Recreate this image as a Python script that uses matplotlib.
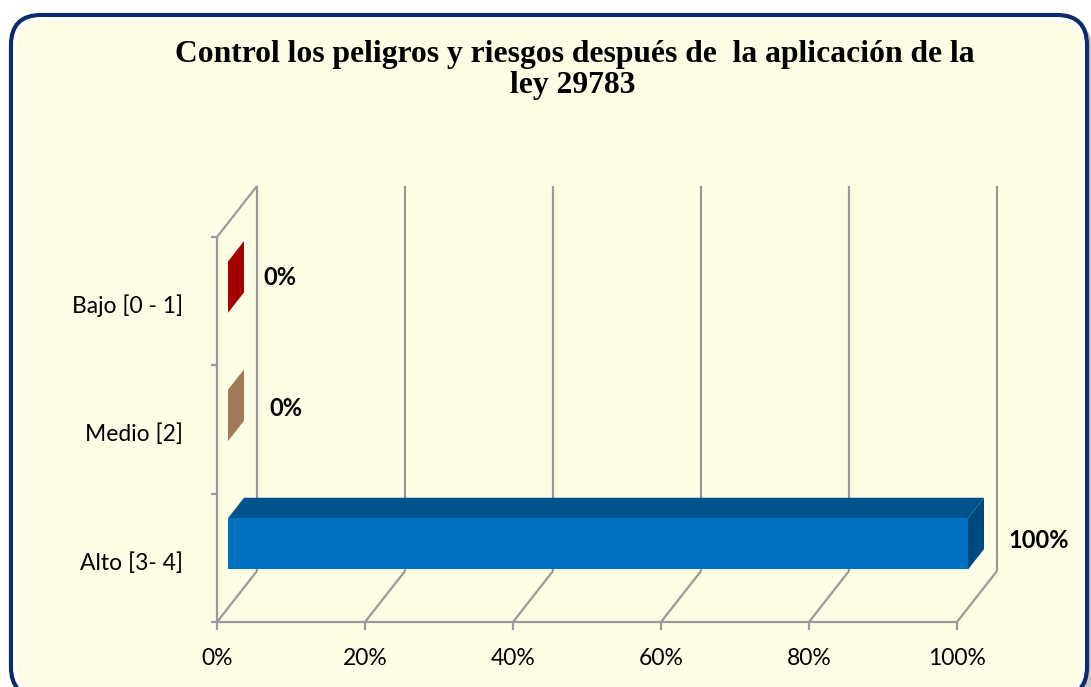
import matplotlib
matplotlib.use("Agg")
import matplotlib.pyplot as plt
import matplotlib.transforms as mtransforms
from matplotlib.patches import Polygon, FancyBboxPatch

# ---------------- data ----------------
categories = ["Alto [3- 4]", "Medio [2]", "Bajo [0 - 1]"]
values = [100, 0, 0]
value_labels = ["100%", "0%", "0%"]
xticks = [0, 20, 40, 60, 80, 100]
xtick_labels = ["0%", "20%", "40%", "60%", "80%", "100%"]
title_lines = ["Control los peligros y riesgos después de  la aplicación de la", "ley 29783"]

# ---------------- style ----------------
front_colors = ["#0070C0", "#A0785A", "#A50000"]
top_colors = ["#00528C", "#A0785A", "#A50000"]
side_colors = ["#00497E", "#A0785A", "#A50000"]
label_offsets = [(82, 17), (69, 21), (63, 24)]   # pixels from bar end
grid_color = "#9A9A9A"
W, H = 1091, 687

fig = plt.figure(figsize=(W / 100, H / 100), dpi=100)
fig.patch.set_facecolor("white")
ident = mtransforms.IdentityTransform()

# frame with shadow
fig.patches.append(FancyBboxPatch((15, -16), 1078, 682, boxstyle="round,pad=0,rounding_size=30",
                                  transform=ident, fc="#C8C8C8", ec="none", zorder=-3))
fig.patches.append(FancyBboxPatch((11, -10), 1076, 682, boxstyle="round,pad=0,rounding_size=30",
                                  transform=ident, fc="#FDFDE6", ec="#0B2B6E", lw=3.0, zorder=-2))
fig.patches.append(FancyBboxPatch((15, -6), 1068, 674, boxstyle="round,pad=0,rounding_size=27",
                                  transform=ident, fc="none", ec="white", lw=2.5, zorder=-1))

# axes = front plane of the 3D box
ax = fig.add_axes([217 / W, (H - 622) / H, 740 / W, 385 / H])
ax.set_zorder(2)
ax.set_xlim(0, 100)
ax.set_ylim(-0.5, 2.5)
ax.patch.set_visible(False)
for s in ax.spines.values():
    s.set_visible(False)

# depth vector in data units
DX = 40 / 7.4
DY = 51 / (385 / 3)
y0, y1 = -0.5, 2.5
lw = 1.6
kw = dict(color=grid_color, lw=lw, clip_on=False, zorder=1, solid_capstyle="butt")

# back wall gridlines and floor diagonals
for x in xticks:
    ax.plot([x + DX, x + DX], [y0 + DY, y1 + DY], **kw)
    ax.plot([x, x + DX], [y0, y0 + DY], **kw)
# front floor line, left wall
ax.plot([0, 100], [y0, y0], **kw)
ax.plot([0, 0], [y0, y1], **kw)
ax.plot([0, DX], [y1, y1 + DY], **kw)

# bars
h = 0.4
f1, f2 = 0.275, 0.675
yp = list(range(len(categories)))
for i, (y, v) in enumerate(zip(yp, values)):
    a = (f1 * DX, f1 * DY)
    b = (f2 * DX, f2 * DY)
    top = [(0 + a[0], y + h / 2 + a[1]), (v + a[0], y + h / 2 + a[1]),
           (v + b[0], y + h / 2 + b[1]), (0 + b[0], y + h / 2 + b[1])]
    side = [(v + a[0], y - h / 2 + a[1]), (v + a[0], y + h / 2 + a[1]),
            (v + b[0], y + h / 2 + b[1]), (v + b[0], y - h / 2 + b[1])]
    ax.add_patch(Polygon(top, closed=True, fc=top_colors[i], ec="none", zorder=3, clip_on=False))
    ax.add_patch(Polygon(side, closed=True, fc=side_colors[i], ec="none", zorder=3, clip_on=False))
    tr = mtransforms.Affine2D().translate(a[0], a[1]) + ax.transData
    ax.barh(y, v, height=h, left=0, color=front_colors[i], lw=0, transform=tr, zorder=4, clip_on=False)
    ax.annotate(value_labels[i], xy=(v, y), xytext=label_offsets[i], textcoords="offset pixels",
                ha="center", va="center", fontsize=17, fontweight="bold", family="Lato",
                color="black", annotation_clip=False)

# ticks
ax.set_xticks(xticks)
ax.set_xticklabels(xtick_labels, family="Lato", fontsize=16.5)
ax.tick_params(axis="x", direction="out", length=6, width=lw, color=grid_color, pad=13)
ax.set_yticks(yp)
ax.set_yticklabels(categories, family="Lato", fontsize=16.5)
ax.tick_params(axis="y", which="major", length=0, pad=24.5)
ax.set_yticks([-0.5, 0.5, 1.5, 2.5], minor=True)
ax.tick_params(axis="y", which="minor", direction="out", length=4.5, width=lw, color=grid_color)
shift = mtransforms.ScaledTranslation(0, -3 / 100, fig.dpi_scale_trans)
for lab in ax.get_yticklabels():
    lab.set_transform(lab.get_transform() + shift)

# title
fig.text(575 / W, 1 - 62 / H, title_lines[0], ha="center", va="baseline", fontsize=22.8,
         fontweight="bold", family="Liberation Serif")
fig.text(573 / W, 1 - 93 / H, title_lines[1], ha="center", va="baseline", fontsize=22.8,
         fontweight="bold", family="Liberation Serif")

fig.savefig("out.png", dpi=100, facecolor=fig.get_facecolor())
